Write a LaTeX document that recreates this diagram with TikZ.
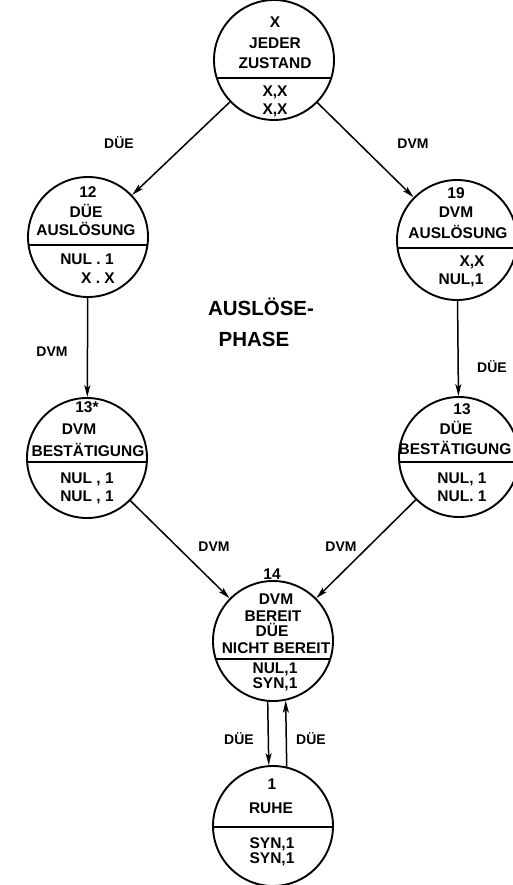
\documentclass[tikz,border=0pt]{standalone}
\usepackage{fontspec}
\setmainfont{Liberation Sans}
\usetikzlibrary{arrows.meta,calc}
\tikzset{
  state/.style={circle, draw, line width=1.9pt, minimum size=120pt, inner sep=0pt},
  txt/.style={font=\bfseries\fontsize{15.5}{18}\selectfont, inner sep=0pt, anchor=base},
  lbl/.style={font=\bfseries\fontsize{14}{17}\selectfont, inner sep=0pt, anchor=base},
  title/.style={font=\bfseries\fontsize{20.5}{24}\selectfont, inner sep=0pt, anchor=base},
  conn/.style={line width=1.5pt, -{Stealth[length=12pt,width=6pt,inset=3pt]}},
  rule/.style={line width=2pt},
}
% horizontal rule across a state circle, #2 below its centre
\newcommand\statedivider[2]{%
  \begin{scope}
    \clip (#1.center) circle (60pt);
    \draw[rule] ([shift={(-62,#2)}]#1.center) -- ([shift={(62,#2)}]#1.center);
  \end{scope}}
\begin{document}
\begin{tikzpicture}[x=1pt,y=-1pt]
\useasboundingbox (0,0) rectangle (513,885);
\fill[white] (0,0) rectangle (513,885);

% states
\node[state] (s0)   at (274,60)  {};
\node[state] (s12)  at (88,237)  {};
\node[state] (s19)  at (457,240) {};
\node[state] (s13a) at (87,458)  {};
\node[state] (s13b) at (459,457) {};
\node[state] (s14)  at (273,641) {};
\node[state] (s1)   at (273,826) {};

\statedivider{s0}{18}
\statedivider{s12}{8}
\statedivider{s19}{8}
\statedivider{s13a}{4}
\statedivider{s13b}{5}
\statedivider{s14}{18}
\statedivider{s1}{1}

% state X
\node[txt] (t0a) at (275,28)  {X};
\node[txt] (t0b) at (275,49)  {JEDER};
\node[txt] (t0c) at (275,69)  {ZUSTAND};
\node[txt] (t0d) at (275,97)  {X,X};
\node[txt] (t0e) at (275,115) {X,X};

% state 12
\node[txt] (t12a) at (88,198) {12};
\node[txt] (t12b) at (86,218) {DÜE};
\node[txt] (t12c) at (86,236) {AUSLÖSUNG};
\node[txt] (t12d) at (87,264) {NUL . 1};
\node[txt] (t12e) at (98,283) {X . X};

% state 19
\node[txt] (t19a) at (456,199) {19};
\node[txt] (t19b) at (456,218) {DVM};
\node[txt] (t19c) at (458,238) {AUSLÖSUNG};
\node[txt] (t19d) at (472,266) {X,X};
\node[txt] (t19e) at (461,284) {NUL,1};

% state 13*
\node[txt] (t13a1) at (87,412) {13*};
\node[txt] (t13a2) at (79,434) {DVM};
\node[txt] (t13a3) at (88,456) {BESTÄTIGUNG};
\node[txt] (t13a4) at (87,483) {NUL , 1};
\node[txt] (t13a5) at (87,501) {NUL , 1};

% state 13
\node[txt] (t13b1) at (462,414) {13};
\node[txt] (t13b2) at (456,434) {DÜE};
\node[txt] (t13b3) at (455,454) {BESTÄTIGUNG};
\node[txt] (t13b4) at (462,483) {NUL, 1};
\node[txt] (t13b5) at (462,501) {NUL. 1};

% state 14
\node[txt] (t14a) at (272,579) {14};
\node[txt] (t14b) at (276,604) {DVM};
\node[txt] (t14c) at (273,621) {BEREIT};
\node[txt] (t14d) at (272,636) {DÜE};
\node[txt] (t14e) at (276,653) {NICHT BEREIT};
\node[txt] (t14f) at (275,673) {NUL,1};
\node[txt] (t14g) at (275,688) {SYN,1};

% state 1
\node[txt] (t1a) at (272,789) {1};
\node[txt] (t1b) at (271,813) {RUHE};
\node[txt] (t1c) at (272,848) {SYN,1};
\node[txt] (t1d) at (272,863) {SYN,1};

% phase title
\node[title] (ph1) at (261,315) {AUSLÖSE-};
\node[title] (ph2) at (254,346) {PHASE};

% transitions
\draw[conn] (s0) -- (s12);
\draw[conn] (s0) -- (s19);
\draw[conn] (s12) -- (s13a);
\draw[conn] (s19) -- (s13b);
\draw[conn] (s13a) -- (s14);
\draw[conn] (s13b) -- (s14);
\draw[conn] (s14.265.3) -- (s1.94.7);
\draw[conn] (s1.77.7) -- (s14.282.3);

% transition labels
\node[lbl] (e1) at (119,149) {DÜE};
\node[lbl] (e2) at (413,149) {DVM};
\node[lbl] (e3) at (52,356)  {DVM};
\node[lbl] (e4) at (492,372) {DÜE};
\node[lbl] (e5) at (214,551) {DVM};
\node[lbl] (e6) at (341,551) {DVM};
\node[lbl] (e7) at (239,744) {DÜE};
\node[lbl] (e8) at (311,744) {DÜE};
\end{tikzpicture}
\end{document}
